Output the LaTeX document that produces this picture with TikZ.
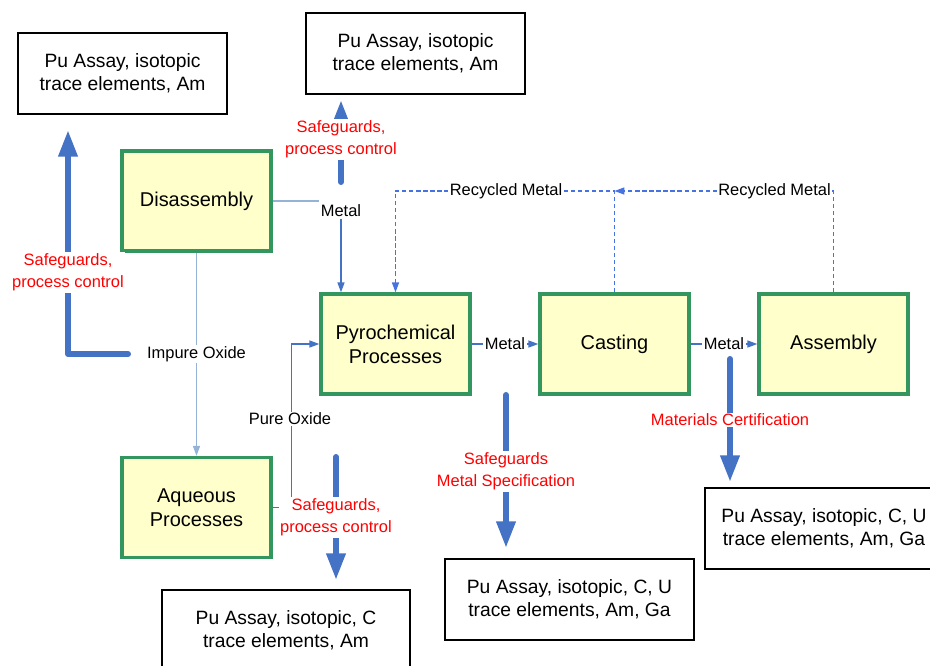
\documentclass[tikz,border=0pt]{standalone}
\usepackage{fontspec}
\setmainfont{Liberation Sans}
\usetikzlibrary{calc, positioning, arrows.meta}

\definecolor{boxgreen}{RGB}{52,150,95}
\definecolor{boxfill}{RGB}{255,255,204}
\definecolor{flowblue}{RGB}{68,114,196}
\definecolor{lightflow}{RGB}{149,179,215}
\definecolor{recycleblue}{RGB}{70,115,225}

\tikzset{
  stagebox/.style={draw=boxgreen, fill=boxfill, line width=2.4pt, minimum width=3.725cm,
    minimum height=2.5cm, align=center, font=\fontsize{14.2}{17}\selectfont},
  resultbox/.style={draw=black, fill=white, line width=1pt, minimum height=2.025cm,
    align=center, font=\fontsize{13.7}{16.3}\selectfont},
  flowlbl/.style={fill=white, inner sep=1pt, font=\fontsize{11.7}{14}\selectfont},
  sglbl/.style={text=red, fill=white, align=center, inner sep=1pt,
    font=\fontsize{11.7}{15.6}\selectfont},
  flow/.style={draw=flowblue, line width=0.8pt},
  thinhead/.style={-{Triangle[length=7pt,width=5pt]}},
  recycle/.style={draw=recycleblue, line width=0.8pt, dash pattern=on 3pt off 2pt},
  check/.style={draw=flowblue, line width=4.25pt, line cap=round, line join=round,
    -{Triangle[length=19pt,width=13pt]}}
}

\begin{document}
\begin{tikzpicture}[x=0.025cm, y=-0.025cm]
  \clip (0,0) rectangle (930,666);

  % Process stages
  \node[stagebox] (dis) at (196.5,201) {Disassembly};
  \node[stagebox] (pyro) at (395.5,344) {Pyrochemical\\Processes};
  \node[stagebox] (cast) at (614.5,344) {Casting};
  \node[stagebox] (asm) at (833.5,344) {Assembly};
  \node[stagebox] (aq) at (196.5,507.5) {Aqueous\\Processes};

  % Measurement boxes
  \node[resultbox, minimum width=5.225cm] (resA) at (122.5,73.5) {Pu Assay, isotopic\\trace elements, Am};
  \node[resultbox, minimum width=5.475cm] (resB) at (415.5,53.5) {Pu Assay, isotopic\\trace elements, Am};
  \node[resultbox, minimum width=6.2cm] (resC) at (286,630.5) {Pu Assay, isotopic, C\\trace elements, Am};
  \node[resultbox, minimum width=6.225cm] (resD) at (569.5,599.5) {Pu Assay, isotopic, C, U\\trace elements, Am, Ga};
  \node[resultbox, minimum width=5.95cm] (resE) at (824,528.5) {Pu Assay, isotopic, C, U\\trace elements, Am, Ga};

  % Metal out of disassembly
  \node[flowlbl] (metA) at (341,211) {Metal};
  \draw[flow, draw=lightflow] (dis.east) -- (metA.west |- dis.east);
  \draw[flow, thinhead] (metA.south) -- (metA.south |- pyro.north);

  % Impure oxide to aqueous
  \node[flowlbl] (impure) at (196.5,354) {Impure Oxide};
  \draw[flow, draw=lightflow] (dis.south) -- (impure);
  \draw[flow, draw=lightflow, thinhead] (impure) -- (aq.north);

  % Pure oxide back to pyro
  \draw[flow, thinhead] (aq.east) -- ++(19,0) |- (pyro.west);
  \node[flowlbl] (pure) at (290,419) {Pure Oxide};

  % Metal along the line
  \draw[flow, thinhead] (pyro) -- node[flowlbl] (metB) {Metal} (cast);
  \draw[flow, thinhead] (cast) -- node[flowlbl] (metC) {Metal} (asm);

  % Recycled metal
  \coordinate (rjoin) at (614.5,191);
  \draw[recycle, thinhead] (cast.north) -- (rjoin) -| (pyro.north);
  \draw[recycle, thinhead] (asm.north) |- (rjoin);
  \node[flowlbl] (recA) at (506,191) {Recycled Metal};
  \node[flowlbl] (recB) at (774.5,191) {Recycled Metal};

  % Sampling arrows
  \coordinate (lstart) at (128,354);
  \coordinate (ltip) at (68,130);
  \draw[check] (lstart) -| (ltip);
  \node[sglbl] (sgA) at (68,272.5) {Safeguards,\\process control};

  \coordinate (tstart) at (341,182);
  \coordinate (ttip) at (341,100);
  \draw[check] (tstart) -- (ttip);
  \node[sglbl] (sgB) at (341,139.5) {Safeguards,\\process control};

  \coordinate (bstart) at (336,457);
  \coordinate (btip) at (336,580);
  \draw[check] (bstart) -- (btip);
  \node[sglbl] (sgC) at (336,517.5) {Safeguards,\\process control};

  \coordinate (cstart) at (506,395);
  \coordinate (ctip) at (506,548);
  \draw[check] (cstart) -- (ctip);
  \node[sglbl] (sgD) at (506,471.5) {Safeguards\\Metal Specification};

  \coordinate (rstart) at (730,359);
  \coordinate (rtip) at (730,482);
  \draw[check] (rstart) -- (rtip);
  \node[sglbl] (sgE) at (730,420) {Materials Certification};
\end{tikzpicture}
\end{document}
